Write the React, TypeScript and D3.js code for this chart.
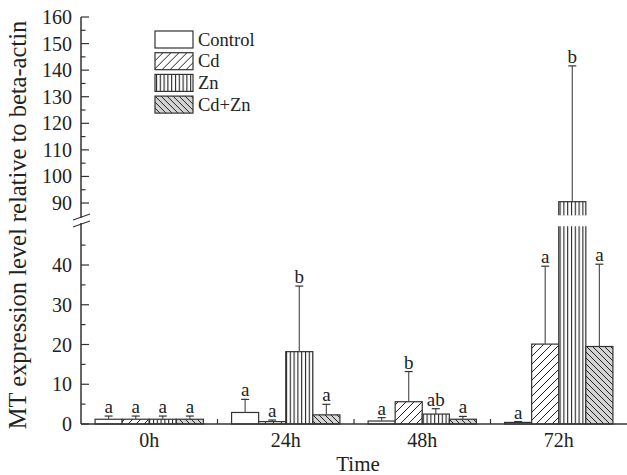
import React from 'react';
import * as d3 from 'd3';

// time points and treatments
const groups = ['0h', '24h', '48h', '72h'];
const series = ['Control', 'Cd', 'Zn', 'Cd+Zn'];

// mean values per treatment (one entry per time point)
const controlMean = [1.2, 2.9, 0.75, 0.4];
const cdMean = [1.2, 0.6, 5.6, 20.1];
const znMean = [1.2, 18.2, 2.5, 90.5];
const cdznMean = [1.2, 2.3, 1.2, 19.5];

// top of the error bar (mean + SD)
const controlErr = [2.0, 6.2, 1.6, 0.6];
const cdErr = [2.0, 1.0, 13.2, 39.7];
const znErr = [2.0, 34.7, 3.85, 141.6];
const cdznErr = [2.0, 4.95, 1.9, 40.2];

// significance letters
const controlLetters = ['a', 'a', 'a', 'a'];
const cdLetters = ['a', 'a', 'b', 'a'];
const znLetters = ['a', 'b', 'ab', 'b'];
const cdznLetters = ['a', 'a', 'a', 'a'];

const lowerTicks = [0, 10, 20, 30, 40];
const lowerMinor = [5, 15, 25, 35, 45];
const upperTicks = [90, 100, 110, 120, 130, 140, 150, 160];
const upperMinor = [95, 105, 115, 125, 135, 145, 155];

const W = 627, H = 475;
const left = 81, right = 627, bottom = 424;
const font = 'Liberation Serif, serif';
const ink = '#333';

const App = () => {
  const means = [controlMean, cdMean, znMean, cdznMean];
  const errs = [controlErr, cdErr, znErr, cdznErr];
  const letters = [controlLetters, cdLetters, znLetters, cdznLetters];
  const fills = ['#fff', 'url(#pCd)', 'url(#pZn)', 'url(#pCdZn)'];

  const x0 = d3.scaleBand().domain(groups).range([left, right]).padding(0);
  const x1 = d3.scaleBand().domain(series).range([0, x0.bandwidth()])
    .paddingInner(0).paddingOuter(0.52);

  // broken axis: lower 0-50, upper 85-160
  const yLow = d3.scaleLinear().domain([0, 50]).range([bottom, 225.25]);
  const yUp = d3.scaleLinear().domain([85, 160]).range([216.3, 17]);
  const y = (v: number) => (v <= 50 ? yLow(v) : yUp(v));

  const bars: React.ReactNode[] = [];
  series.forEach((s, si) => {
    groups.forEach((g, gi) => {
      const bx = (x0(g) as number) + (x1(s) as number);
      const bw = x1.bandwidth();
      const m = means[si][gi];
      const e = errs[si][gi];
      const cx = bx + bw / 2;
      const key = s + g;
      if (m > 50) {
        bars.push(<rect key={key + 'l'} x={bx} y={yLow(50)} width={bw} height={bottom - yLow(50)}
          fill={fills[si]} stroke={ink} strokeWidth={1.2} />);
        bars.push(<rect key={key + 'u'} x={bx} y={yUp(m)} width={bw} height={yUp(85) - yUp(m)}
          fill={fills[si]} stroke={ink} strokeWidth={1.2} />);
        // hide strokes at the break
        bars.push(<rect key={key + 'g'} x={bx - 1} y={yUp(85) - 1} width={bw + 2} height={yLow(50) - yUp(85) + 2} fill="#fff" />);
      } else {
        bars.push(<rect key={key} x={bx} y={y(m)} width={bw} height={bottom - y(m)}
          fill={fills[si]} stroke={ink} strokeWidth={1.2} />);
      }
      bars.push(<line key={key + 'e'} x1={cx} x2={cx} y1={y(m)} y2={y(e)} stroke="#555" strokeWidth={1.2} />);
      bars.push(<line key={key + 'c'} x1={cx - 4} x2={cx + 4} y1={y(e)} y2={y(e)} stroke={ink} strokeWidth={1.2} />);
      bars.push(<text key={key + 't'} x={cx} y={y(e) - 3} textAnchor="middle" fontSize={19}
        fontFamily={font} fill="#222">{letters[si][gi]}</text>);
    });
  });

  return (
    <svg width={W} height={H} style={{ position: 'absolute', left: 0, top: 0, background: '#fff' }}>
      <defs>
        <pattern id="pCd" patternUnits="userSpaceOnUse" width={8} height={8}>
          <rect width={8} height={8} fill="#fff" />
          <path d="M-2,2 L2,-2 M0,8 L8,0 M6,10 L10,6" stroke="#222" strokeWidth={1} />
        </pattern>
        <pattern id="pZn" patternUnits="userSpaceOnUse" width={3.8} height={8}>
          <rect width={3.8} height={8} fill="#fff" />
          <line x1={1.5} x2={1.5} y1={0} y2={8} stroke="#222" strokeWidth={1.1} />
        </pattern>
        <pattern id="pCdZn" patternUnits="userSpaceOnUse" width={6} height={6}>
          <rect width={6} height={6} fill="#d4d4d4" />
          <path d="M-1.5,4.5 L1.5,7.5 M0,0 L6,6 M4.5,-1.5 L7.5,1.5" stroke="#222" strokeWidth={1} />
        </pattern>
      </defs>

      {bars}

      {/* x axis */}
      <line x1={left} x2={right} y1={bottom} y2={bottom} stroke={ink} strokeWidth={1.5} />
      {groups.slice(1).map(g => (
        <line key={g} x1={x0(g) as number} x2={x0(g) as number} y1={bottom} y2={bottom - 5} stroke={ink} strokeWidth={1.2} />
      ))}
      {groups.map(g => (
        <text key={g} x={(x0(g) as number) + x0.bandwidth() / 2} y={447} textAnchor="middle"
          fontSize={20} fontFamily={font} fill="#222">{g}</text>
      ))}
      <text x={358} y={471} textAnchor="middle" fontSize={21} fontFamily={font} fill="#222">Time</text>

      {/* y axis, two segments */}
      <line x1={left} x2={left} y1={bottom} y2={223} stroke={ink} strokeWidth={1.5} />
      <line x1={left} x2={left} y1={218} y2={17} stroke={ink} strokeWidth={1.5} />
      <line x1={73} x2={90} y1={220} y2={214} stroke={ink} strokeWidth={1.3} />
      <line x1={73} x2={90} y1={227} y2={221} stroke={ink} strokeWidth={1.3} />

      {lowerTicks.map(t => (
        <g key={'l' + t}>
          <line x1={left} x2={left + 8} y1={yLow(t)} y2={yLow(t)} stroke={ink} strokeWidth={1.2} />
          <text x={72} y={yLow(t) + 7} textAnchor="end" fontSize={20} fontFamily={font} fill="#222">{t}</text>
        </g>
      ))}
      {lowerMinor.map(t => (
        <line key={'lm' + t} x1={left} x2={left + 4.5} y1={yLow(t)} y2={yLow(t)} stroke={ink} strokeWidth={1.2} />
      ))}
      {upperTicks.map(t => (
        <g key={'u' + t}>
          <line x1={left} x2={left + 8} y1={yUp(t)} y2={yUp(t)} stroke={ink} strokeWidth={1.2} />
          <text x={72} y={yUp(t) + 7} textAnchor="end" fontSize={20} fontFamily={font} fill="#222">{t}</text>
        </g>
      ))}
      {upperMinor.map(t => (
        <line key={'um' + t} x1={left} x2={left + 4.5} y1={yUp(t)} y2={yUp(t)} stroke={ink} strokeWidth={1.2} />
      ))}
      <text transform="translate(26,225) rotate(-90)" textAnchor="middle" fontSize={24.5}
        fontFamily={font} fill="#222">MT expression level relative to beta-actin</text>

      {/* legend */}
      {series.map((s, i) => (
        <g key={s} transform={`translate(155,${31 + i * 21.7})`}>
          <rect x={0} y={0} width={38} height={17} fill={fills[i]} stroke={ink} strokeWidth={1.2} />
          <text x={43} y={14.5} fontSize={18.5} fontFamily={font} fill="#222">{s}</text>
        </g>
      ))}
    </svg>
  );
};

export default App;
